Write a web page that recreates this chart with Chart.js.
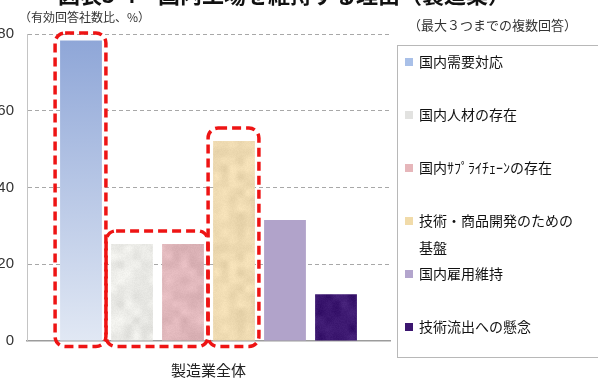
<!DOCTYPE html>
<html>
<head>
<meta charset="utf-8">
<script src="https://cdn.jsdelivr.net/npm/chart.js@4.4.1/dist/chart.umd.min.js"></script>
<style>
  html, body { margin: 0; padding: 0; background: #fff; overflow: hidden; }
  #wrap { position: relative; width: 598px; height: 381px; }
</style>
</head>
<body>
<div id="wrap"><canvas id="c" width="598" height="381"></canvas></div>
<script>
// ---- data ----
const categories = ['製造業全体'];
const seriesNames = [
  '国内需要対応',
  '国内人材の存在',
  '国内ｻﾌﾟﾗｲﾁｪｰﾝの存在',
  '技術・商品開発のための基盤',
  '国内雇用維持',
  '技術流出への懸念'
];
const seriesValues = [78.3, 25.3, 25.3, 52.1, 31.5, 12.2];
const yTicks = [0, 20, 40, 60, 80];
// groups of series that are circled with a red dashed outline
const highlightGroups = [[0], [1, 2], [3]];

const titleText = '図表3-4　国内工場を維持する理由（製造業）';
const unitNote = '（有効回答社数比、%）';
const answerNote = '（最大３つまでの複数回答）';

// ---- styles ----
const JP = "'Noto Sans CJK JP', 'Noto Sans', sans-serif";
const legendSwatch = ['#a9c0e8', '#e2e2e0', '#e6b6ba', '#f1dba9', '#b3a5cd', '#3c1670'];

// soft mottled fill used for the textured bars
function mottled(r, g, b, amp, seed) {
  const size = 96, cell = 8;
  const cv = document.createElement('canvas');
  cv.width = cv.height = size;
  const cx = cv.getContext('2d');
  const img = cx.createImageData(size, size);
  const hash = (i, j) => {
    const h = Math.sin(i * 12.9898 + j * 78.233 + seed * 3.17) * 43758.5453;
    return h - Math.floor(h) - 0.5;
  };
  const n = size / cell;
  const lattice = (i, j) => hash(((i % n) + n) % n, ((j % n) + n) % n);
  const smooth = t => t * t * (3 - 2 * t);
  for (let j = 0; j < size; j++) {
    for (let i = 0; i < size; i++) {
      const gx = i / cell, gy = j / cell;
      const x0 = Math.floor(gx), y0 = Math.floor(gy);
      const tx = smooth(gx - x0), ty = smooth(gy - y0);
      const a = lattice(x0, y0), bq = lattice(x0 + 1, y0);
      const c = lattice(x0, y0 + 1), d = lattice(x0 + 1, y0 + 1);
      const v = (a * (1 - tx) + bq * tx) * (1 - ty) + (c * (1 - tx) + d * tx) * ty;
      const noise = (v * 0.8 + hash(i + 500, j + 500) * 0.25) * amp;
      const k = (j * size + i) * 4;
      img.data[k] = Math.max(0, Math.min(255, r + noise));
      img.data[k + 1] = Math.max(0, Math.min(255, g + noise));
      img.data[k + 2] = Math.max(0, Math.min(255, b + noise));
      img.data[k + 3] = 255;
    }
  }
  cx.putImageData(img, 0, 0);
  return cx.createPattern(cv, 'repeat');
}

function blueGradient(ctx) {
  const area = ctx.chart.chartArea;
  if (!area) return '#a9c0e8';
  const g = ctx.chart.ctx.createLinearGradient(0, area.top, 0, area.bottom);
  g.addColorStop(0, '#8da5d7');
  g.addColorStop(1, '#e1e8f4');
  return g;
}

const barFills = [
  blueGradient,
  mottled(233, 233, 229, 30, 1),
  mottled(224, 183, 187, 26, 2),
  mottled(237, 217, 176, 26, 3),
  '#b1a3ca',
  mottled(60, 24, 112, 30, 4)
];

// ---- drawing helpers ----
const overlay = {
  id: 'overlay',
  afterDatasetsDraw(chart) {
    const ctx = chart.ctx;
    const area = chart.chartArea;
    ctx.save();
    ctx.strokeStyle = '#ee1414';
    ctx.lineWidth = 3.5;
    ctx.setLineDash([9, 5]);
    highlightGroups.forEach(group => {
      let l = Infinity, r = -Infinity, t = Infinity, b = -Infinity;
      group.forEach(i => {
        const bar = chart.getDatasetMeta(i).data[0];
        l = Math.min(l, bar.x - bar.width / 2);
        r = Math.max(r, bar.x + bar.width / 2);
        t = Math.min(t, bar.y);
        b = Math.max(b, bar.base);
      });
      const x0 = l - 5, x1 = r + 4;
      const y0 = Math.max(t - 13, area.top - 1), y1 = b + 6;
      ctx.beginPath();
      ctx.roundRect(x0, y0, x1 - x0, y1 - y0, 10);
      ctx.stroke();
    });
    ctx.restore();
  },
  afterDraw(chart) {
    const ctx = chart.ctx;
    ctx.save();
    // title (runs off the top edge)
    ctx.fillStyle = '#111';
    ctx.font = 'bold 22px ' + JP;
    ctx.textBaseline = 'alphabetic';
    ctx.textAlign = 'left';
    ctx.fillText(titleText, 58, 3);

    // notes
    ctx.fillStyle = '#333';
    ctx.textBaseline = 'middle';
    ctx.font = '12px ' + JP;
    ctx.fillText(unitNote, 19, 17);
    ctx.font = '13px ' + JP;
    ctx.fillText(answerNote, 408, 25);

    // legend box
    ctx.strokeStyle = '#b8b8b8';
    ctx.lineWidth = 1;
    ctx.strokeRect(397.5, 45.5, 220, 312);

    ctx.font = '14px ' + JP;
    const maxW = 165;
    chart.data.datasets.forEach((ds, i) => {
      const yc = 62 + i * 53;
      ctx.fillStyle = legendSwatch[i];
      ctx.fillRect(405, yc - 4, 8, 8);
      // wrap label to the box width
      const lines = [];
      let cur = '';
      for (const ch of ds.label) {
        if (ctx.measureText(cur + ch).width > maxW && cur) { lines.push(cur); cur = ch; }
        else cur += ch;
      }
      lines.push(cur);
      ctx.fillStyle = '#111';
      lines.forEach((ln, k) => ctx.fillText(ln, 419, yc + k * 27));
    });
    ctx.restore();
  }
};

new Chart(document.getElementById('c'), {
  type: 'bar',
  data: {
    labels: categories,
    datasets: seriesNames.map((name, i) => ({
      label: name,
      data: [seriesValues[i]],
      backgroundColor: barFills[i],
      borderWidth: 0
    }))
  },
  options: {
    responsive: false,
    animation: false,
    devicePixelRatio: 1,
    layout: { padding: { top: 34, right: 208, bottom: 0, left: 0 } },
    categoryPercentage: 0.843,
    barPercentage: 0.82,
    plugins: {
      legend: { display: false },
      tooltip: { enabled: false },
      title: { display: false }
    },
    scales: {
      x: {
        afterFit(s) { s.height = 40; },
        grid: { display: false },
        border: { display: true, color: '#9c9c9c', width: 1.5 },
        ticks: { padding: 12, color: '#222', font: { family: JP, size: 15 } }
      },
      y: {
        min: 0,
        max: 80,
        afterFit(s) { s.width = 27; },
        afterBuildTicks(s) { s.ticks = yTicks.map(v => ({ value: v })); },
        grid: {
          drawTicks: false,
          color: c => (c.tick && c.tick.value === 0) ? 'rgba(0,0,0,0)' : '#a8a8a8',
          lineWidth: 1
        },
        border: { display: true, color: '#c4c4c4', dash: [4, 3] },
        ticks: {
          padding: 13,
          color: '#333',
          font: { family: "'Liberation Sans', Arial, sans-serif", size: 15 }
        }
      }
    }
  },
  plugins: [overlay]
});
</script>
</body>
</html>
